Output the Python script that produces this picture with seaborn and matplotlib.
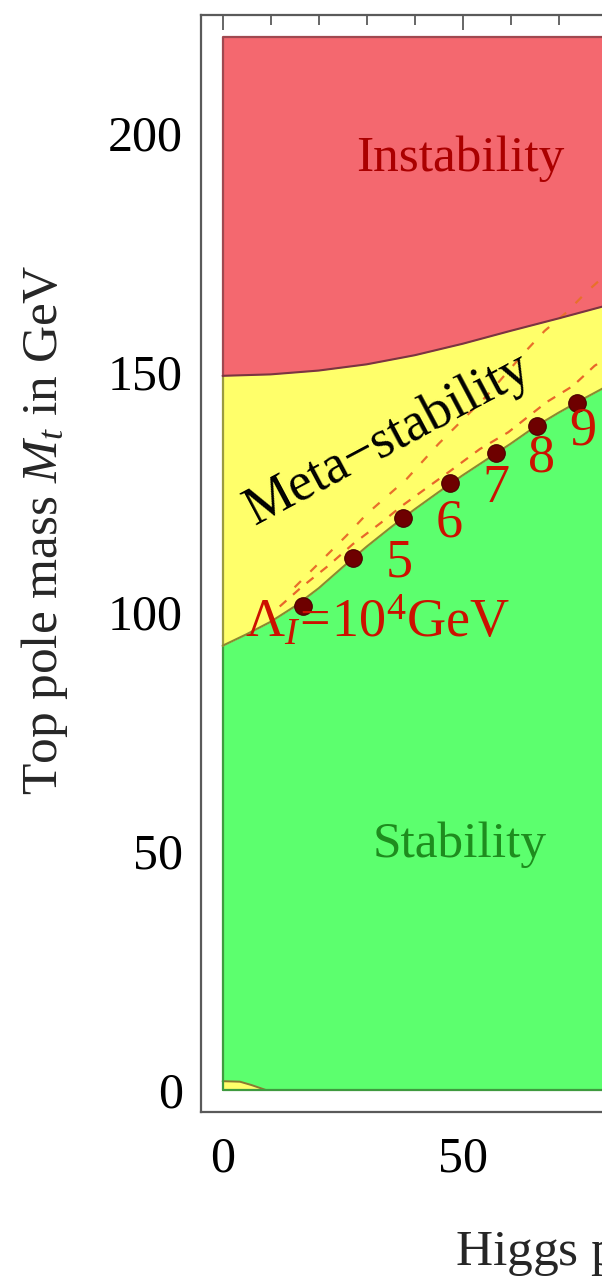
import numpy as np
import pandas as pd
import matplotlib
matplotlib.use("Agg")
import matplotlib.pyplot as plt
from matplotlib.ticker import MultipleLocator
import seaborn as sns

# ---------------- data ----------------
mh = [0, 5, 10, 15, 20, 25, 30, 35, 40, 45, 50, 55, 60, 65, 70, 75, 80, 90, 100]
stability_bound = [92.8, 95.2, 97.8, 101.0, 104.8, 109.2, 113.5, 117.5, 121.3, 124.9,
                   128.4, 131.7, 135.0, 138.5, 141.5, 144.3, 147.0, 152.0, 157.0]
mh_up = [0, 10, 20, 30, 40, 50, 60, 70, 80, 90, 100]
instability_bound = [149.2, 149.5, 150.3, 151.6, 153.5, 155.9, 158.6, 161.2, 163.9, 166.6, 169.3]
mt_top = 220

small_x = [0, 3.6, 6.0, 8.9]
small_y = [1.8, 1.7, 1.0, 0.0]

dash1_x = [15, 20, 25.8, 30, 38.3, 45, 55, 63, 67.1, 71.7, 75.8, 85]
dash1_y = [105, 110, 115.8, 120.3, 127.6, 135, 145, 154.2, 158.6, 162.5, 166.7, 175]
dash2_x = [11.9, 16.4, 22, 27.1, 33, 37.6, 43.1, 47.4, 53.6, 59.5, 67.5, 73.0, 77.5, 85]
dash2_y = [101.0, 105.0, 109.5, 114.0, 118.5, 122.2, 126.2, 129.3, 133.9, 137.4, 143.7, 147.1, 151.3, 156.0]

dot_mh = [16.8, 27.1, 37.6, 47.4, 56.9, 65.4, 73.8]
dot_mt = [101.2, 111.1, 119.5, 126.7, 133.0, 138.8, 143.5]
dot_labels = ["", "5", "6", "7", "8", "9", ""]

xticks = [0, 50]
yticks = [0, 50, 100, 150, 200]

# ---------------- style ----------------
sns.set_theme(style="white")
plt.rcParams["font.family"] = ["Liberation Serif", "DejaVu Serif"]
plt.rcParams["mathtext.fontset"] = "custom"
plt.rcParams["mathtext.rm"] = "Liberation Serif"
plt.rcParams["mathtext.it"] = "Liberation Serif:italic"

RED = "#f4686f"
YELLOW = "#ffff6a"
GREEN = "#5cff6e"
FRAME = "#5a5a5a"

W, H = 602, 1276
fig = plt.figure(figsize=(W / 100, H / 100), dpi=100)
fig.patch.set_facecolor("white")

xmin, xmax = -4.5, 100
ymin, ymax = -4.7, 224.6
left_px, top_px, bottom_px = 201, 15, 1112.3
px_per_unit = 4.8
right_px = left_px + (xmax - xmin) * px_per_unit
ax = fig.add_axes([left_px / W, 1 - bottom_px / H, (right_px - left_px) / W, (bottom_px - top_px) / H])
ax.set_xlim(xmin, xmax)
ax.set_ylim(ymin, ymax)
ax.set_facecolor("white")

# ---------------- regions ----------------
mh_a = np.array(mh, float)
stab_a = np.array(stability_bound, float)
up_a = np.interp(mh_a, mh_up, instability_bound)

ax.fill_between(mh_a, 0, stab_a, color=GREEN, lw=0, zorder=1)
ax.fill_between(mh_a, stab_a, up_a, color=YELLOW, lw=0, zorder=1)
ax.fill_between(mh_up, instability_bound, mt_top, color=RED, lw=0, zorder=1)
ax.fill_between(small_x, 0, small_y, color=YELLOW, lw=0, zorder=2)

# outline of regions
sns.lineplot(x=small_x, y=small_y, ax=ax, color="#8a7a30", lw=1.4, sort=False, estimator=None, zorder=3)
ax.plot([0, 0], [0, stab_a[0]], color="#3f9a3f", lw=1.6, zorder=3)
ax.plot([0, xmax], [0, 0], color="#3f9a3f", lw=1.6, zorder=3)
ax.plot([0, 0], [stab_a[0], up_a[0]], color="#9a9a40", lw=1.6, zorder=3)
ax.plot([0, 0, xmax], [instability_bound[0], mt_top, mt_top], color="#a04850", lw=1.6, zorder=3)

# dashed uncertainty lines
sns.lineplot(x=dash1_x, y=dash1_y, ax=ax, color="#e8702a", lw=1.6, sort=False, estimator=None,
             zorder=4).lines[-1].set_dashes([4, 6])
sns.lineplot(x=dash2_x, y=dash2_y, ax=ax, color="#e8662a", lw=1.6, sort=False, estimator=None,
             zorder=4).lines[-1].set_dashes([4, 4])

# boundaries
sns.lineplot(x=mh_up, y=instability_bound, ax=ax, color="#7a3540", lw=1.5, sort=False, estimator=None, zorder=5)
sns.lineplot(x=mh, y=stability_bound, ax=ax, color="#8a8a30", lw=1.5, sort=False, estimator=None, zorder=5)

# instability-scale points
sns.scatterplot(x=dot_mh, y=dot_mt, ax=ax, color="#6e0000", s=160, edgecolor="#4a0000",
                linewidth=0.8, zorder=6, legend=False)
for xm, ym, lab in zip(dot_mh, dot_mt, dot_labels):
    if lab:
        ax.text(xm + 9.6, ym - 1.1, lab, color="#cc1100", fontsize=39, ha="center", va="center", zorder=7)
ax.text(4.65, 94.6, r"$\Lambda_I\!=\!10^4$GeV", color="#cc1100", fontsize=39, ha="left", va="baseline", zorder=7)

# region names
ax.text(49.6, 192.1, "Instability", color="#aa0000", fontsize=37, ha="center", va="baseline", zorder=7)
ax.text(49.4, 48.6, "Stability", color="#1e8c1e", fontsize=37, ha="center", va="baseline", zorder=7)
ax.text(34.6, 135.8, "Meta\u2212stability", color="black", fontsize=39, ha="center", va="center",
        rotation=28, rotation_mode="anchor", zorder=7)

# ---------------- frame & ticks ----------------
for sp in ax.spines.values():
    sp.set_color(FRAME)
    sp.set_linewidth(1.6)
    sp.set_visible(True)
ax.set_xticks(xticks)
ax.set_yticks(yticks)
ax.xaxis.set_minor_locator(MultipleLocator(10))
ax.yaxis.set_minor_locator(MultipleLocator(10))
ax.tick_params(which="both", direction="in", top=True, right=True, color=FRAME, width=1.3,
               labelcolor="black", labelsize=36)
ax.tick_params(which="major", length=11)
ax.tick_params(which="minor", length=7.5)
ax.tick_params(axis="x", pad=17)
ax.tick_params(axis="y", pad=13)
ax.grid(False)

fig.text(45 / W, 1 - 530 / H, r"Top pole mass $M_t$ in GeV", rotation=90, ha="center", va="center",
         fontsize=37)
fig.text(455 / W, 1 - 1265 / H, r"Higgs pole mass $M_h$ in GeV", ha="left", va="baseline", fontsize=37)

fig.savefig("out.png", dpi=100)
